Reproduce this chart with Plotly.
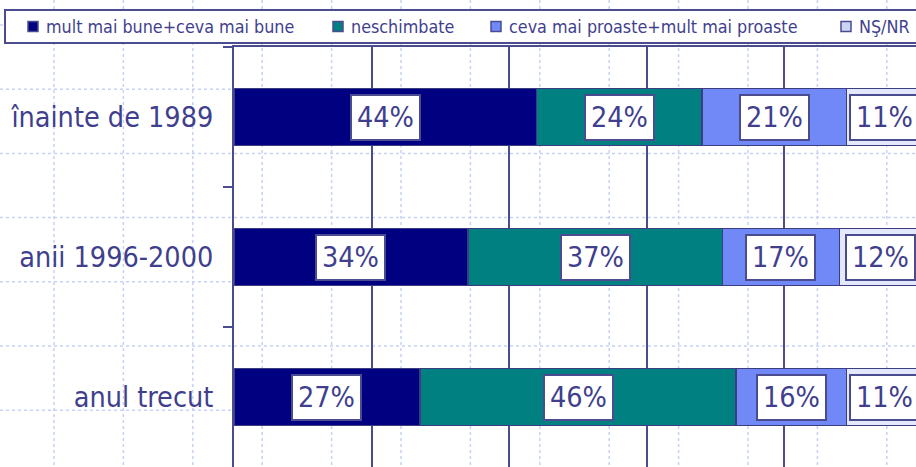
import plotly.graph_objects as go

# data
categories = ["înainte de 1989", "anii 1996-2000", "anul trecut"]
series_names = ["mult mai bune+ceva mai bune", "neschimbate",
                "ceva mai proaste+mult mai proaste", "NŞ/NR"]
better = [44, 34, 27]
same = [24, 37, 46]
worse = [21, 17, 16]
dont_know = [11, 12, 11]

series_values = [better, same, worse, dont_know]
colors = ["#000080", "#008080", "#7089f6", "#e4e8fc"]

INK = "#3f3f8e"
LINE = "#4b4b8f"
FONT = "'DejaVu Sans Condensed', 'Noto Sans', sans-serif"

W, H = 916, 467
L, T = 234, 47
PW, PH = W - L, H - T


def px_x(x):
    return (x - L) / PW


def px_y(y):
    return (H - y) / PH


fig = go.Figure()
for name, vals, col in zip(series_names, series_values, colors):
    fig.add_trace(go.Bar(
        y=categories, x=vals, name=name, orientation="h",
        marker=dict(color=col, line=dict(color="#3c3c80", width=1.5)),
        showlegend=False, hoverinfo="skip",
    ))

# value boxes in the middle of each segment
annotations = []
for i, cat in enumerate(categories):
    base = 0
    for vals in series_values:
        v = vals[i]
        annotations.append(dict(
            x=base + v / 2, y=cat, xref="x", yref="y", text=f"{v}%",
            showarrow=False, font=dict(family=FONT, size=28.5, color=INK),
            bgcolor="white", bordercolor=LINE, borderwidth=2, borderpad=5,
        ))
        base += v

shapes = []
# dotted slide background grid
gx = 54.0
while gx < W:
    shapes.append(dict(type="line", xref="paper", yref="paper",
                       x0=px_x(gx), x1=px_x(gx), y0=px_y(0), y1=px_y(H),
                       line=dict(color="#c6d2f6", width=1.5, dash="dot"),
                       layer="below"))
    gx += 69.4
gy = 25.0
while gy < H:
    shapes.append(dict(type="line", xref="paper", yref="paper",
                       x0=px_x(0), x1=px_x(W), y0=px_y(gy), y1=px_y(gy),
                       line=dict(color="#c6d2f6", width=1.5, dash="dot"),
                       layer="below"))
    gy += 64.2

# legend box drawn by hand
shapes.append(dict(type="rect", xref="paper", yref="paper",
                   x0=px_x(5), x1=px_x(W + 20), y0=px_y(43), y1=px_y(10),
                   fillcolor="white", line=dict(color=LINE, width=2)))
legend_x = [28, 333, 491, 841]
for name, col, lx in zip(series_names, colors, legend_x):
    shapes.append(dict(type="rect", xref="paper", yref="paper",
                       x0=px_x(lx), x1=px_x(lx + 10), y0=px_y(31.5), y1=px_y(21.5),
                       fillcolor=col if col != "#e4e8fc" else "#ccd4f4",
                       line=dict(color=LINE, width=1.5)))
    annotations.append(dict(
        x=px_x(lx + 16), y=px_y(26.5), xref="paper", yref="paper",
        xanchor="left", yanchor="middle", text=name, showarrow=False,
        font=dict(family=FONT, size=17.8, color=INK),
    ))

fig.update_layout(
    width=W, height=H,
    margin=dict(l=L, r=0, t=T, b=0, pad=0),
    paper_bgcolor="white", plot_bgcolor="rgba(0,0,0,0)",
    barmode="stack", bargap=0.59,
    annotations=annotations, shapes=shapes,
    xaxis=dict(range=[0, PW / 6.88], dtick=20, side="top",
               showgrid=True, gridcolor=LINE, gridwidth=2,
               showline=True, linecolor=LINE, linewidth=2,
               showticklabels=False, zeroline=False, fixedrange=True),
    yaxis=dict(categoryorder="array", categoryarray=categories,
               autorange="reversed", showline=True, linecolor=LINE,
               linewidth=2, showgrid=False, ticks="outside", ticklen=9,
               tickwidth=2, tickcolor=LINE, tickson="boundaries",
               ticklabelstandoff=13, fixedrange=True,
               tickfont=dict(family=FONT, size=28.5, color=INK)),
)

# page body margin would shift the chart by 8px
fig.write_html("out.html", config={"displayModeBar": False},
               post_script="document.body.style.margin='0';"
               "document.body.style.overflow='hidden';")
